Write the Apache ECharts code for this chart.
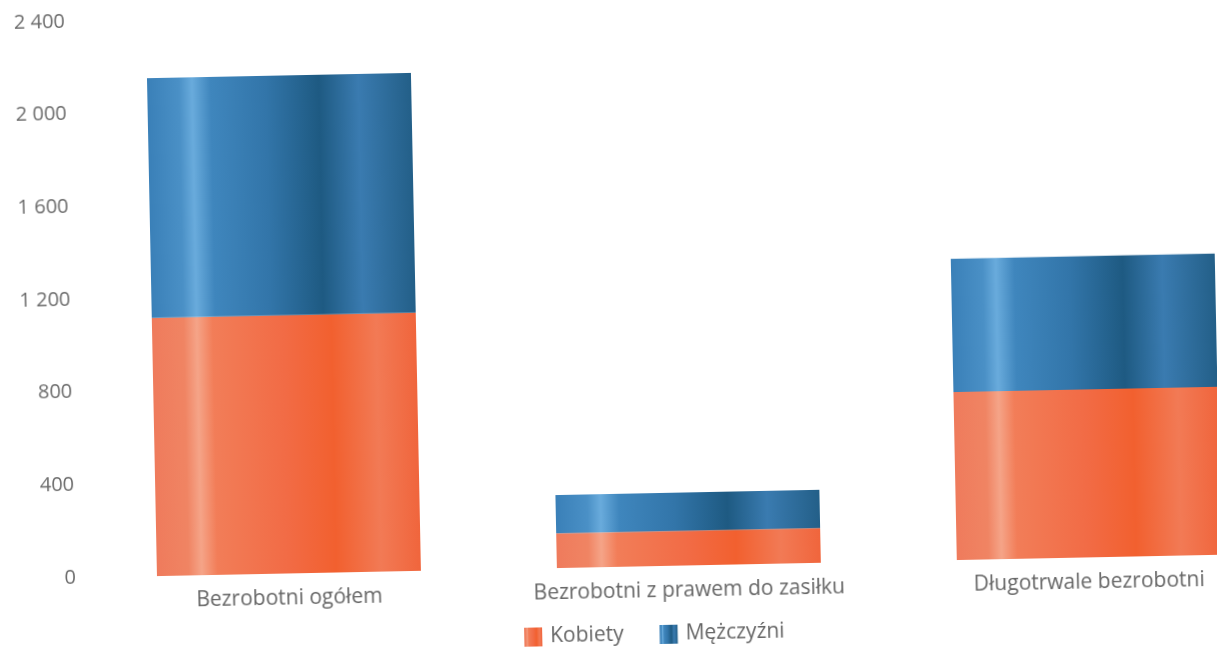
<!DOCTYPE html>
<html>
<head>
<meta charset="utf-8">
<script src="https://cdn.jsdelivr.net/npm/echarts@6/dist/echarts.min.js"></script>
<style>
  html, body { margin: 0; padding: 0; background: #fff; overflow: hidden; }
  #wrap { width: 1217px; height: 649px; overflow: hidden; }
  /* skan jest lekko przekrzywiony, a prawy slupek wychodzi poza kadr */
  #ch1 { width: 1284px; height: 649px; transform: rotate(-1.15deg); transform-origin: 608px 324px; }
</style>
</head>
<body>
<div id="wrap"><div id="ch1"></div></div>
<script>
var categories = ['Bezrobotni ogółem', 'Bezrobotni z prawem do zasiłku', 'Długotrwale bezrobotni'];
var kobiety = [1115, 150, 725];
var mezczyzni = [1035, 165, 575];
var yTicks = [0, 400, 800, 1200, 1600, 2000, 2400];

window.onload = function() {
  var ch1 = echarts.init(document.getElementById('ch1'));

  // paski jak na skanie: jasny pas z lewej, ciemniej w srodku
  var orange = new echarts.graphic.LinearGradient(0, 0, 1, 0, [
    { offset: 0, color: '#ef7b5c' },
    { offset: 0.12, color: '#f08463' },
    { offset: 0.17, color: '#f5a488' },
    { offset: 0.23, color: '#f27d58' },
    { offset: 0.5, color: '#f26b45' },
    { offset: 0.68, color: '#f2602f' },
    { offset: 0.85, color: '#f27a55' },
    { offset: 1, color: '#f0653c' }
  ]);
  var blue = new echarts.graphic.LinearGradient(0, 0, 1, 0, [
    { offset: 0, color: '#3a80b8' },
    { offset: 0.12, color: '#4a90c6' },
    { offset: 0.17, color: '#69abdc' },
    { offset: 0.24, color: '#3f86bd' },
    { offset: 0.45, color: '#3275a9' },
    { offset: 0.65, color: '#1e5a82' },
    { offset: 0.8, color: '#3a7bb0' },
    { offset: 1, color: '#235f88' }
  ]);

  var op1 = {
    animation: false,
    textStyle: {
      fontFamily: 'Open Sans'
    },
    legend: {
      left: 513,
      top: 620,
      itemWidth: 18,
      itemHeight: 19,
      itemGap: 36,
      icon: 'rect',
      textStyle: {
        fontSize: 21,
        color: '#666',
        fontFamily: 'Open Sans',
        padding: [0, 0, 0, 3]
      },
      data: ['Kobiety', 'Mężczyźni']
    },
    grid: {
      left: 84,
      right: 0,
      top: 11,
      bottom: 82
    },
    xAxis: {
      type: 'category',
      data: categories,
      axisLine: { show: false },
      axisTick: { show: false },
      axisLabel: {
        interval: 0,
        hideOverlap: false,
        margin: 15,
        fontSize: 21,
        color: '#666',
        fontFamily: 'Open Sans'
      }
    },
    yAxis: {
      type: 'value',
      min: yTicks[0],
      max: yTicks[yTicks.length - 1],
      interval: 400,
      splitLine: { show: false },
      axisLine: { show: false },
      axisTick: { show: false },
      axisLabel: {
        margin: 13,
        fontSize: 20,
        color: '#6b6b6b',
        fontFamily: 'Open Sans',
        formatter: function(v) {
          return String(v).replace(/\B(?=(\d{3})+(?!\d))/g, ' ');
        }
      }
    },
    series: [{
      name: 'Kobiety',
      type: 'bar',
      stack: 'a',
      barWidth: '66%',
      itemStyle: { color: orange },
      data: kobiety
    }, {
      name: 'Mężczyźni',
      type: 'bar',
      stack: 'a',
      barWidth: '66%',
      itemStyle: { color: blue },
      data: mezczyzni
    }]
  };

  ch1.setOption(op1);
};
</script>
</body>
</html>
